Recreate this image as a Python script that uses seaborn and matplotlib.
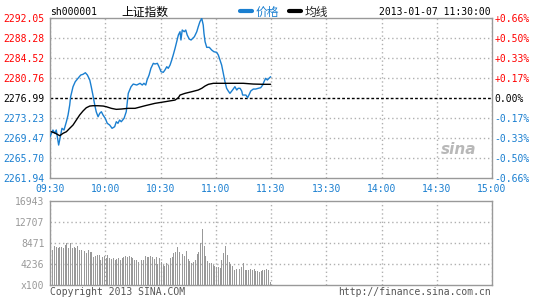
import numpy as np
import pandas as pd
import matplotlib
matplotlib.use("Agg")
import matplotlib.pyplot as plt
from matplotlib.lines import Line2D
import seaborn as sns

# ---------------- data ----------------
price_min = [0, 1.6, 2.6, 3.4, 4.7, 5.8, 6.5, 7.6, 8.9, 9.8, 10.7, 11.2, 12.5, 13.7, 15.2,
             16.7, 17.9, 19.2, 20.3, 21.6, 22.4, 23.3, 24.3, 25.1, 26.1, 27.0, 27.9, 28.8,
             30.0, 31.1, 32.4, 33.7, 35.1, 36.0, 36.9, 37.8, 38.7, 40.2, 41.4, 42.0, 42.5,
             44.0, 45.2, 47.1, 48.9, 50.1, 51.0, 52.0, 52.7, 53.8, 54.8, 56.1, 57.0, 58.3,
             59.2, 60.3, 61.5, 62.4, 63.4, 64.2, 65.2, 66.1, 66.9, 67.9, 68.8, 69.7, 70.6,
             71.1, 71.8, 72.9, 73.7, 74.5, 75.6, 76.6, 77.5, 78.4, 79.7, 80.5, 81.4, 82.4,
             83.2, 83.6, 84.2, 85.1, 86.5, 87.8, 89.0, 90.5, 91.4, 92.3, 93.2, 94.1, 95.0,
             95.9, 96.8, 97.7, 98.7, 99.5, 100.4, 101.4, 102.2, 103.2, 104.1, 104.6, 106.4,
             107.3, 108.2, 109.0, 110.4, 111.7, 113.1, 114.4, 115.5, 116.2, 117.1, 118.0,
             118.9, 119.8]
price_val = [2269.71, 2270.97, 2270.35, 2270.97, 2268.14, 2270.03, 2271.29, 2270.97, 2272.53,
             2273.79, 2275.67, 2277.23, 2279.12, 2280.06, 2280.70, 2281.32, 2281.45, 2281.75,
             2281.32, 2280.38, 2279.12, 2277.55, 2275.67, 2274.41, 2273.47, 2274.11, 2274.41,
             2273.79, 2273.17, 2272.23, 2271.91, 2271.29, 2271.59, 2272.53, 2272.23, 2272.85,
             2272.53, 2273.17, 2274.41, 2276.30, 2277.87, 2279.12, 2279.62, 2279.44, 2279.76,
             2279.44, 2279.76, 2279.44, 2280.38, 2281.32, 2282.58, 2283.52, 2283.39, 2283.52,
             2282.88, 2281.94, 2281.83, 2282.26, 2282.88, 2282.58, 2283.20, 2284.14, 2285.08,
             2286.34, 2287.59, 2288.85, 2289.47, 2287.91, 2289.79, 2289.47, 2289.79, 2288.85,
             2288.09, 2287.91, 2288.22, 2288.53, 2289.47, 2290.41, 2291.35, 2291.99, 2290.73,
             2289.17, 2287.59, 2286.53, 2286.53, 2286.02, 2285.70, 2285.59, 2285.08, 2284.14,
             2283.20, 2281.64, 2280.06, 2278.82, 2278.31, 2277.87, 2278.31, 2278.68, 2279.12,
             2278.50, 2278.82, 2278.82, 2278.31, 2277.55, 2277.55, 2277.05, 2277.69, 2278.31,
             2278.68, 2278.68, 2278.82, 2278.93, 2279.44, 2280.06, 2280.70, 2280.38, 2280.70,
             2281.00]
avg_min = [0.7, 2.7, 5.3, 7.1, 8.9, 10.7, 12.5, 14.3, 16.1, 17.9, 19.7, 21.6, 23.3, 26.1,
           28.9, 30.6, 33.3, 36.0, 38.7, 42.4, 46.2, 51.6, 57.0, 62.4, 67.9, 69.7, 70.6,
           73.3, 77.0, 80.5, 82.4, 84.2, 86.0, 88.7, 97.7, 105.0, 110.4, 115.8, 119.8]
avg_val = [2270.65, 2270.40, 2269.90, 2270.35, 2270.65, 2271.29, 2271.91, 2272.85, 2273.79,
           2274.54, 2275.16, 2275.48, 2275.54, 2275.54, 2275.48, 2275.35, 2275.05, 2274.86,
           2274.92, 2275.05, 2275.05, 2275.54, 2275.99, 2276.29, 2276.61, 2277.05, 2277.55,
           2277.87, 2278.18, 2278.50, 2278.82, 2279.25, 2279.57, 2279.76, 2279.76, 2279.76,
           2279.62, 2279.57, 2279.57]
volume = [7732, 7059, 7933, 7597, 7395, 7732, 7597, 7395, 8068, 8404, 7395, 8404, 7395, 7732,
          7395, 7933, 7059, 7059, 6723, 6857, 6387, 7059, 6723, 6589, 5715, 5849, 6051, 6051,
          5042, 5715, 5916, 5378, 6051, 5513, 5244, 5378, 5042, 5244, 5378, 5042, 5378, 5715,
          5849, 5715, 5849, 5715, 5378, 5042, 5042, 4706, 4706, 5042, 5042, 5849, 5647, 5715,
          5849, 5715, 5244, 5715, 4236,
          5378, 4706, 4034, 3899, 4370, 4034, 5378, 5715, 6387, 6723, 7732, 6723, 6723, 6185,
          5849, 6857, 5244, 4841, 4504, 4706, 5042, 6185, 6723, 8404, 11295, 7933, 5849, 4841,
          4370, 4504, 4034, 3899, 3698, 3563, 3362, 5042, 6387, 7933, 6051, 4706, 4236, 3899,
          3025, 3227, 2824, 3227, 3698, 4370, 3025, 3025, 3025, 3227, 3025, 3227, 2824, 2824,
          2689, 2824, 3025, 3025, 3227, 3025, 538]
prev_close = 2276.99
y_ticks = [2261.94, 2265.70, 2269.47, 2273.23, 2276.99, 2280.76, 2284.52, 2288.28, 2292.05]
y_labels = ["2261.94", "2265.70", "2269.47", "2273.23", "2276.99", "2280.76", "2284.52",
            "2288.28", "2292.05"]
pct_labels = ["-0.66%", "-0.50%", "-0.33%", "-0.17%", "0.00%", "+0.17%", "+0.33%",
              "+0.50%", "+0.66%"]
x_ticks = [0, 30, 60, 90, 120, 150, 180, 210, 240]
x_labels = ["09:30", "10:00", "10:30", "11:00", "11:30", "13:30", "14:00", "14:30", "15:00"]
vol_ticks = [0, 4236, 8471, 12707, 16943]
vol_labels = ["x100", "4236", "8471", "12707", "16943"]

# ---------------- style ----------------
sns.set_theme(style="white")
plt.rcParams['font.family'] = ['DejaVu Sans Mono', 'Noto Sans CJK SC']

RED = "#ff0000"
BLUE = "#1a7fd0"
GRAY = "#999999"
GRID = "#b0b0b0"
MONO = ['DejaVu Sans Mono']
CJK = ['Noto Sans CJK SC', 'DejaVu Sans']
FS = 7

fig = plt.figure(figsize=(5.45, 3.0), dpi=100)
fig.patch.set_facecolor("white")
W, H = 545.0, 300.0
ax = fig.add_axes([50 / W, (H - 178) / H, 442 / W, 160 / H])
axv = fig.add_axes([50 / W, (H - 285) / H, 442 / W, 84 / H])

price_df = pd.DataFrame({"t": price_min, "p": price_val})
avg_df = pd.DataFrame({"t": avg_min, "p": avg_val})

# grid
for a in (ax, axv):
    a.set_xlim(0, 240)
    a.set_xticks(x_ticks)
    a.grid(True, axis="x", color=GRID, linestyle=(0, (1, 2)), linewidth=1)
    for s in a.spines.values():
        s.set_color(GRAY)
        s.set_linewidth(1.0)
    a.set_axisbelow(True)

ax.set_ylim(y_ticks[0], y_ticks[-1])
ax.set_yticks(y_ticks)
for v in y_ticks[1:-1]:
    if v == prev_close:
        continue
    ax.axhline(v, color=GRID, linestyle=(0, (1, 2)), linewidth=1, zorder=0)
ax.axhline(prev_close, color="black", linestyle=(0, (2, 1.5)), linewidth=1, zorder=1)

sns.lineplot(data=price_df, x="t", y="p", ax=ax, color=BLUE, linewidth=1.0,
             estimator=None, sort=False, zorder=3)
sns.lineplot(data=avg_df, x="t", y="p", ax=ax, color="black", linewidth=1.0,
             estimator=None, sort=False, zorder=4)
ax.set_xlabel("")
ax.set_ylabel("")

ax.set_yticklabels(y_labels, family=MONO, fontsize=FS)
for lbl, v in zip(ax.get_yticklabels(), y_ticks):
    lbl.set_color(RED if v > prev_close else ("black" if v == prev_close else BLUE))
ax.set_xticklabels(x_labels, family=MONO, fontsize=FS, color=BLUE)
ax.tick_params(axis="both", length=0)
ax.tick_params(axis="y", pad=4)
ax.tick_params(axis="x", pad=4.5)

ax2 = ax.twinx()
ax2.set_ylim(ax.get_ylim())
ax2.set_yticks(y_ticks)
ax2.set_yticklabels(pct_labels, family=MONO, fontsize=FS)
for lbl, v in zip(ax2.get_yticklabels(), y_ticks):
    lbl.set_color(RED if v > prev_close else ("black" if v == prev_close else BLUE))
ax2.tick_params(axis="y", length=0, pad=2)
for s in ax2.spines.values():
    s.set_visible(False)

# watermark
ax.text(0.965, 0.18, "sina", transform=ax.transAxes, ha="right", va="center",
        fontsize=11, fontstyle="italic", fontweight="bold", color="#b8b8b8",
        family=['DejaVu Sans'], zorder=0)

# volume
vol_t = np.linspace(0.5, 119.5, len(volume))
vol_df = pd.DataFrame({"t": vol_t, "v": volume})
sns.barplot(data=vol_df, x="t", y="v", ax=axv, native_scale=True, color=GRAY,
            saturation=1, errorbar=None, width=0.55, linewidth=0, zorder=3)
axv.set_xlim(0, 240)
axv.set_xticks(x_ticks)
axv.set_xticklabels([])
axv.set_ylim(0, vol_ticks[-1])
axv.set_yticks(vol_ticks)
axv.set_yticklabels(vol_labels, family=MONO, fontsize=FS, color=GRAY)
for v in vol_ticks[1:-1]:
    axv.axhline(v, color=GRID, linestyle=(0, (1, 2)), linewidth=1, zorder=0)
axv.tick_params(axis="both", length=0)
axv.tick_params(axis="y", pad=4)
axv.set_xlabel("")
axv.set_ylabel("")

# header
fig.text(50 / W, 1 - 12 / H, "sh000001", family=MONO, fontsize=FS, color="black",
         ha="left", va="center")
fig.text(121 / W, 1 - 12 / H, "上证指数", family=CJK, fontsize=8.5, color="black",
         ha="left", va="center")
handles = [Line2D([0], [0], color=BLUE, linewidth=3),
           Line2D([0], [0], color="black", linewidth=3)]
leg = fig.legend(handles, ["价格", "均线"], loc="center left",
                 bbox_to_anchor=(240 / W, 1 - 12 / H), ncol=2, frameon=False,
                 prop={"family": CJK, "size": 8.5}, handlelength=1.0,
                 handletextpad=0.3, columnspacing=0.9, borderpad=0, borderaxespad=0)
leg.get_texts()[0].set_color(BLUE)
fig.text(491 / W, 1 - 12 / H, "2013-01-07 11:30:00", family=MONO, fontsize=FS,
         color="black", ha="right", va="center")

# footer
fig.text(50 / W, 1 - 292 / H, "Copyright 2013 SINA.COM", family=MONO, fontsize=FS,
         color="#555555", ha="left", va="center")
fig.text(491 / W, 1 - 292 / H, "http://finance.sina.com.cn", family=MONO, fontsize=FS,
         color="#555555", ha="right", va="center")

fig.savefig("out.png", dpi=100, facecolor="white")
